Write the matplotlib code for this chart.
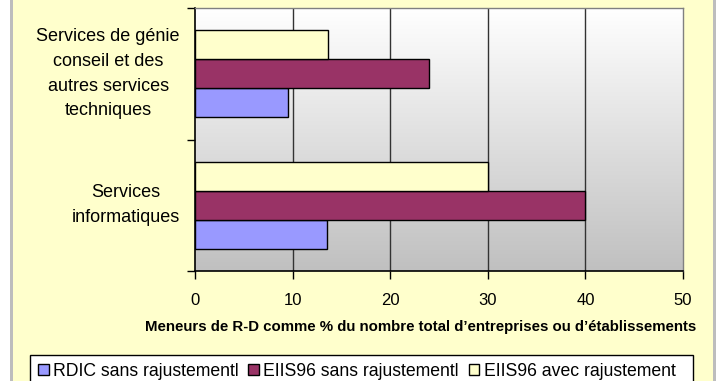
#!/usr/bin/env python3
import numpy as np
import matplotlib
matplotlib.use("Agg")
import matplotlib.pyplot as plt
from matplotlib.patches import Rectangle

plt.rcParams["font.family"] = ["Liberation Sans", "DejaVu Sans"]

# data
categories = ["Services\ninformatiques",
              "Services de génie\nconseil et des\nautres services\ntechniques"]
series_names = ["RDIC sans rajustementl", "EIIS96 sans rajustementl", "EIIS96 avec rajustement"]
rdic_sans = [13.5, 9.5]
eiis_sans = [40.0, 24.0]
eiis_avec = [30.0, 13.6]
x_ticks = [0, 10, 20, 30, 40, 50]
x_label = "Meneurs de R-D comme % du nombre total d\u2019entreprises ou d\u2019établissements"

colors = ["#9999FF", "#993366", "#FFFFCC"]

W, H = 720, 381
fig = plt.figure(figsize=(W / 100, H / 100), dpi=100)
fig.patch.set_facecolor("white")

# chart-area background with grey side borders
fig.patches.append(Rectangle((13 / W, 0), 700 / W, 1, transform=fig.transFigure,
                             facecolor="#FFFFCC", edgecolor="none", zorder=-10))
for x0 in (10, 713):
    fig.patches.append(Rectangle((x0 / W, 0), 3 / W, 1, transform=fig.transFigure,
                                 facecolor="#BDBDBD", edgecolor="none", zorder=-9))

left, right, top, bottom = 195, 683, 8, 271
ax = fig.add_axes([left / W, 1 - bottom / H, (right - left) / W, (bottom - top) / H])
ax.set_facecolor("none")

# grey-to-white vertical gradient behind the plot
grad = np.linspace(0, 1, 256).reshape(-1, 1)
cmap = matplotlib.colors.LinearSegmentedColormap.from_list("g", ["#C0C0C0", "#FFFFFF"])
ax.imshow(grad, extent=(0, 50, 1.5, -0.5), cmap=cmap, aspect="auto", zorder=0)

y = np.arange(len(categories))
h = 0.22
for vals, off, c in zip([rdic_sans, eiis_sans, eiis_avec], [-h, 0, h], colors):
    ax.barh(y + off, vals, height=h, color=c, edgecolor="black", linewidth=1.0, zorder=3)

ax.set_xlim(0, 50)
ax.set_ylim(-0.5, 1.5)
ax.set_xticks(x_ticks)
ax.set_xticklabels([str(t) for t in x_ticks], fontsize=12)
ax.set_yticks([-0.5, 0.5, 1.5])
ax.set_yticklabels([])
ax.tick_params(axis="x", direction="out", length=6, width=1, pad=10, color="black")
ax.tick_params(axis="y", direction="out", length=6, width=1, color="black")

for xv in x_ticks[1:-1]:
    ax.axvline(xv, color="#333333", linewidth=1.0, zorder=1)

for side in ("top", "right"):
    ax.spines[side].set_color("#808080")
    ax.spines[side].set_linewidth(1.0)
for side in ("left", "bottom"):
    ax.spines[side].set_color("black")
    ax.spines[side].set_linewidth(1.2)

for yi, lab in zip(y, categories):
    ax.text(-15 / (right - left), yi, lab, transform=ax.get_yaxis_transform(),
            ha="right", va="center", multialignment="center", fontsize=13,
            linespacing=1.6)

fig.text((143 + 698) / 2 / W, 1 - 327 / H, x_label, ha="center", va="center",
         fontsize=10.8, fontweight="bold")

# legend box (runs off the bottom edge like the original)
fig.patches.append(Rectangle((30 / W, -0.05), 663 / W, 1 - 355 / H + 0.05,
                             transform=fig.transFigure, facecolor="white",
                             edgecolor="black", linewidth=1.0, zorder=5))
handles = [Rectangle((0, 0), 1, 1, facecolor=c, edgecolor="black", linewidth=1.0)
           for c in colors]
leg = fig.legend(handles, series_names, loc="center left", ncol=3,
                 bbox_to_anchor=(38 / W, 1 - 371 / H),
                 fontsize=12.7, handlelength=0.6, handleheight=0.6, handletextpad=0.25,
                 columnspacing=0.55, borderpad=0, frameon=False, borderaxespad=0)
leg.set_zorder(6)

fig.savefig("out.png", dpi=100, facecolor=fig.get_facecolor())
